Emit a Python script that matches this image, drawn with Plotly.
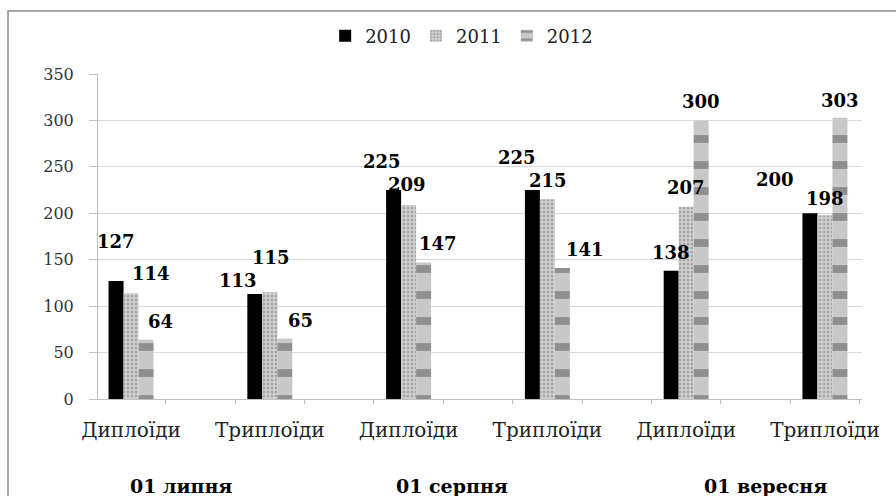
import plotly.graph_objects as go

# ---- data ----
categories = ["Диплоїди", "Триплоїди", "Диплоїди", "Триплоїди", "Диплоїди", "Триплоїди"]
dates = ["01 липня", "01 серпня", "01 вересня"]
years = ["2010", "2011", "2012"]
v2010 = [127, 113, 225, 225, 138, 200]
v2011 = [114, 115, 209, 215, 207, 198]
v2012 = [64, 65, 147, 141, 300, 303]
y_ticks = [0, 50, 100, 150, 200, 250, 300, 350]

series = [v2010, v2011, v2012]
xpos = list(range(len(categories)))

FONT = "DejaVu Serif"
bar_w = 0.108  # width of one bar in category units

styles = [
    dict(color="#000000", line=dict(width=0)),
    dict(color="#cfcfcf", line=dict(width=0),
         pattern=dict(shape=".", fgcolor="#7a7a7a", bgcolor="#d2d2d2", size=4, solidity=0.45)),
    dict(color="#a8a8a8", line=dict(width=0),
         pattern=dict(shape="-", fgcolor="#555555", bgcolor="#c8c8c8", size=26, solidity=0.3)),
]

fig = go.Figure()
for name, vals, st in zip(years, series, styles):
    fig.add_trace(go.Bar(x=xpos, y=vals, name=name, marker=st))

# label offsets (px) relative to each bar top: (dx, dy)
label_offsets = [
    [(0, 40), (-17, 14), (-12, 29), (-15, 33), (0, 18), (-35, 34)],
    [(20, 20), (1, 35), (-2, 20), (1, 19), (0, 19), (0, 17)],
    [(14, 18), (16, 18), (14, 19), (23, 19), (0, 19), (0, 17)],
]
for si, vals in enumerate(series):
    for gi, v in enumerate(vals):
        dx, dy = label_offsets[si][gi]
        fig.add_annotation(
            x=xpos[gi] + (si - 1) * bar_w, y=v, xref="x", yref="y",
            text=str(v), showarrow=False, xanchor="center", yanchor="middle",
            xshift=dx, yshift=dy,
            font=dict(family=FONT, size=18, color="#000000", weight="bold"),
        )

# date group labels
date_shift = [-19, -26, 10]
for di, d in enumerate(dates):
    fig.add_annotation(
        x=2 * di + 0.5, y=-0.268, xref="x", yref="paper", text=d, showarrow=False,
        xanchor="center", yanchor="middle", xshift=date_shift[di],
        font=dict(family=FONT, size=19, color="#000000", weight="bold"),
    )

# outer chart frame
fig.add_shape(type="rect", xref="paper", yref="paper",
              x0=-0.1178, x1=1.06, y0=-0.33, y1=1.194,
              line=dict(color="#8c8c8c", width=1.5), fillcolor="rgba(0,0,0,0)")

fig.update_layout(
    width=896, height=496,
    margin=dict(l=98, r=34, t=74, b=97),
    paper_bgcolor="white", plot_bgcolor="white",
    barmode="group", bargap=1 - 3 * bar_w, bargroupgap=0,
    font=dict(family=FONT, color="#222222"),
    legend=dict(orientation="h", x=0.476, y=1.117, xanchor="center", yanchor="middle",
                font=dict(family=FONT, size=18, color="#222222"),
                itemwidth=30, traceorder="normal", bgcolor="rgba(0,0,0,0)"),
    showlegend=True,
)
fig.update_xaxes(
    range=[-0.238, 5.267], tickmode="array", tickvals=xpos, ticktext=categories,
    ticks="", showgrid=False, zeroline=False,
    showline=True, linecolor="#bfbfbf", linewidth=1,
    tickfont=dict(family=FONT, size=20, color="#222222"), ticklabelstandoff=13,
    minor=dict(ticks="outside", ticklen=4, tickcolor="#bfbfbf", tickmode="array",
               tickvals=[0.25 + 0.5 * k for k in range(-1, 11)], showgrid=False),
)
fig.update_yaxes(
    range=[0, 350], tickmode="array", tickvals=y_ticks,
    ticks="outside", ticklen=8, tickcolor="#bfbfbf",
    showgrid=True, gridcolor="#d9d9d9", gridwidth=1, zeroline=False,
    showline=True, linecolor="#bfbfbf", linewidth=1,
    tickfont=dict(family=FONT, size=16, color="#333333"), ticklabelstandoff=12,
)

fig.write_html("out.html")
